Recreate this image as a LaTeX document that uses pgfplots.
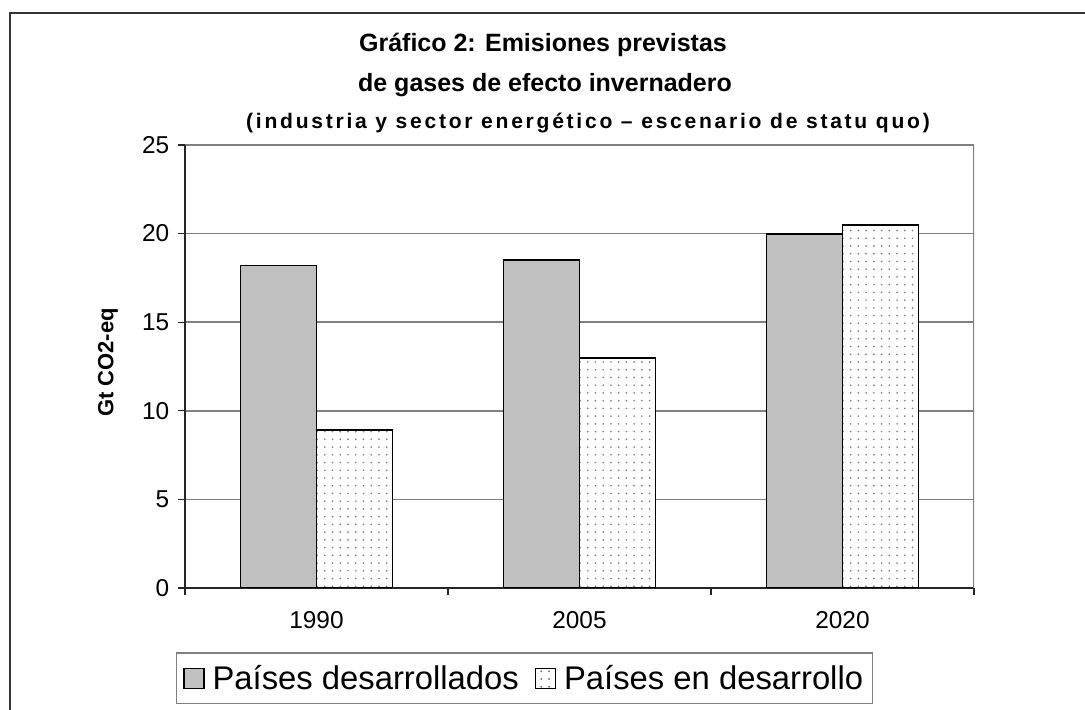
\documentclass[border=0pt]{standalone}
\usepackage{pgfplots}
\pgfplotsset{compat=1.18}
\usepackage{fontspec}
\setmainfont{Liberation Sans}
\usetikzlibrary{patterns}
\pgfdeclarepatternformonly{sdots}{\pgfqpoint{-1pt}{-1pt}}{\pgfqpoint{1pt}{1pt}}{\pgfqpoint{5.8pt}{5.8pt}}{\pgfpathcircle{\pgfqpoint{0pt}{0pt}}{0.7pt}\pgfusepath{fill}}
\definecolor{barg}{HTML}{C0C0C0}
\definecolor{gridg}{HTML}{808080}
\begin{document}
\begin{tikzpicture}[x=0.75pt,y=0.75pt]
\path[use as bounding box] (0,0) rectangle (1085,710);
\draw[line width=1.1pt, black!80] (10,0) -- (10,697) -- (1085,697);
\begin{axis}[
  at={(138.75pt,91.5pt)}, anchor=south west,
  scale only axis, width=591.75pt, height=332.25pt,
  xmin=0, xmax=3, ymin=0, ymax=25, enlargelimits=false,
  /pgf/number format/assume math mode=true,
  ytick={0,5,...,25},
  xtick={0,1,2,3}, xticklabels={,,,},
  extra x ticks={0.5,1.5,2.5}, extra x tick labels={1990,2005,2020},
  extra x tick style={major tick length=0pt},
  tick align=outside, major tick length=5.25pt,
  tick style={black!85, line width=0.8pt},
  axis x line*=bottom, axis y line*=left,
  axis line style={-, black!85, line width=1.1pt},
  ymajorgrids, grid style={gridg, line width=1.1pt},
  tick label style={font=\fontsize{18.3}{21}\selectfont},
  yticklabel style={xshift=-3pt},
  xticklabel style={yshift=-14pt},
  legend style={at={(-0.0114,-0.2619)}, anchor=south west, draw=gridg, line width=1.1pt,
    font=\fontsize{24.6}{28}\selectfont, inner xsep=5pt, inner ysep=7pt,
    /tikz/every even column/.style={column sep=10pt}},
  legend columns=2,
  legend cell align=left,
]
\addplot[ybar, bar shift=-0.1445, bar width=0.289, fill=barg, draw=black, line width=1.4pt,
  legend image code/.code={\draw[fill=barg, draw=black, line width=0.9pt] (0pt,-7.5pt) rectangle (15pt,7.5pt);}]
  coordinates {(0.5,18.2) (1.5,18.5) (2.5,20.0)};
\addlegendentry{\hspace{4pt}Países desarrollados}
\addplot[ybar, bar shift=0.1445, bar width=0.289, fill=white, draw=black, line width=1.4pt,
  postaction={pattern=sdots, pattern color=gray},
  legend image code/.code={\draw[fill=white, draw=black, line width=0.9pt, postaction={pattern=sdots, pattern color=gray}] (0pt,-7.5pt) rectangle (15pt,7.5pt);}]
  coordinates {(0.5,8.9) (1.5,13.0) (2.5,20.5)};
\addlegendentry{\hspace{4pt}Países en desarrollo}
\draw[gridg, line width=1.1pt] (axis cs:3,0) -- (axis cs:3,25);
\end{axis}
\node[anchor=base, font=\bfseries\fontsize{18.75}{22}\selectfont] at (543,658) {Gráfico 2: Emisiones previstas};
\node[anchor=base, font=\bfseries\fontsize{18.75}{22}\selectfont] at (545,618) {de gases de efecto invernadero};
\node[anchor=base, font=\bfseries\fontsize{15.8}{18}\selectfont\addfontfeatures{LetterSpace=13}] at (588,581) {(industria y sector energético – escenario de statu quo)};
\node[rotate=90, font=\bfseries\fontsize{16.5}{20}\selectfont] at (108,347.5) {Gt CO2-eq};
\end{tikzpicture}
\end{document}
